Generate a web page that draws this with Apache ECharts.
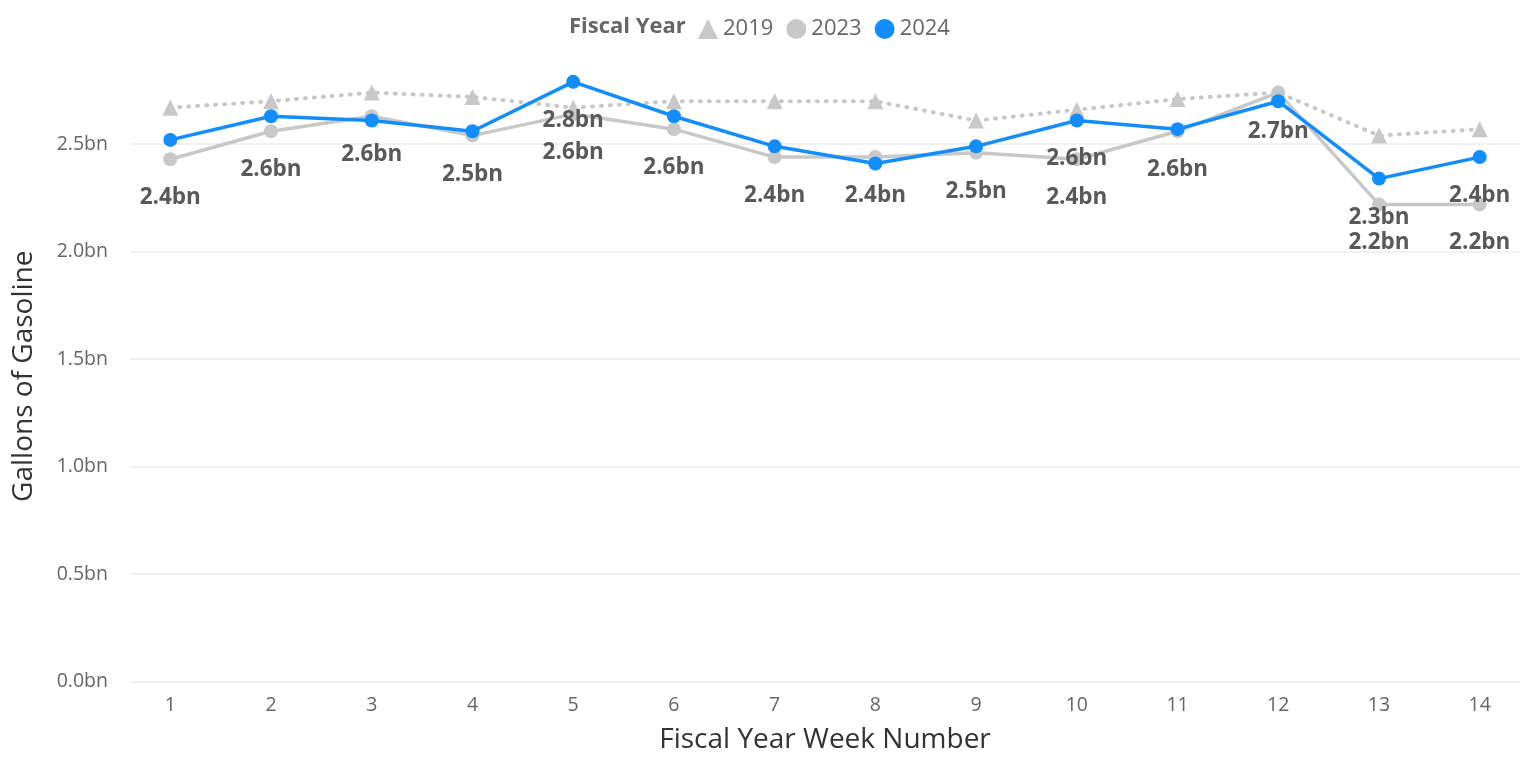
<!DOCTYPE html>
<html>
<head>
<meta charset="utf-8">
<script src="https://cdn.jsdelivr.net/npm/echarts@6/dist/echarts.min.js"></script>
<style>
  html, body { margin: 0; padding: 0; background: #fff; }
  #chart { width: 1527px; height: 761px; }
</style>
</head>
<body>
<div id="chart"></div>
<script>
// fiscal week numbers
var weeks = [1, 2, 3, 4, 5, 6, 7, 8, 9, 10, 11, 12, 13, 14];
// gallons of gasoline, billions
var fy2019 = [2.67, 2.70, 2.74, 2.72, 2.67, 2.70, 2.70, 2.70, 2.61, 2.66, 2.71, 2.74, 2.54, 2.57];
var fy2023 = [2.43, 2.56, 2.63, 2.54, 2.64, 2.57, 2.44, 2.44, 2.46, 2.43, 2.56, 2.74, 2.22, 2.22];
var fy2024 = [2.52, 2.63, 2.61, 2.56, 2.79, 2.63, 2.49, 2.41, 2.49, 2.61, 2.57, 2.70, 2.34, 2.44];
var yTicks = [0, 0.5, 1, 1.5, 2, 2.5];

var font = "'Open Sans', 'Noto Sans', sans-serif";

function pairs(arr) {
  var res = [];
  for (var i = 0; i < weeks.length; i++) res.push([weeks[i], arr[i]]);
  return res;
}

var dataLabel = {
  show: true,
  position: "bottom",
  distance: 20,
  color: "#595959",
  fontSize: 22.5,
  fontWeight: "bold",
  fontFamily: font,
  formatter: function (p) {
    return p.value[1].toFixed(1) + "bn";
  }
};

var chart = echarts.init(document.getElementById("chart"));
var option = {
  animation: false,
  backgroundColor: "#fff",
  title: {
    text: "Fiscal Year",
    left: 564,
    top: 11,
    textStyle: { color: "#666", fontSize: 22, fontWeight: "bold", fontFamily: font }
  },
  legend: {
    left: 693,
    top: 13,
    itemWidth: 20,
    itemHeight: 20,
    itemGap: 13,
    textStyle: { color: "#666", fontSize: 22, fontFamily: font },
    data: [
      { name: "2019", icon: "triangle" },
      { name: "2023", icon: "circle" },
      { name: "2024", icon: "circle" }
    ]
  },
  grid: { left: 130, right: 7, top: 36.7, bottom: 79.3 },
  xAxis: {
    type: "value",
    min: 0.6,
    max: 14.4,
    name: "Fiscal Year Week Number",
    nameLocation: "middle",
    nameGap: 44,
    nameTextStyle: { color: "#333", fontSize: 28, fontFamily: font },
    axisLine: { show: false },
    axisTick: { show: false },
    splitLine: { show: false },
    axisLabel: {
      customValues: weeks,
      color: "#666",
      fontSize: 19.5,
      fontFamily: font,
      margin: 14
    }
  },
  yAxis: {
    type: "value",
    min: 0,
    max: 3,
    interval: 0.5,
    name: "Gallons of Gasoline",
    nameLocation: "middle",
    nameGap: 92,
    nameTextStyle: { color: "#333", fontSize: 28, fontFamily: font, padding: [0, 34, 0, 0] },
    axisLine: { show: false },
    axisTick: { show: false },
    axisLabel: {
      color: "#666",
      fontSize: 19.5,
      fontFamily: font,
      margin: 22,
      showMaxLabel: false,
      formatter: function (v) {
        return yTicks.indexOf(v) >= 0 ? v.toFixed(1) + "bn" : "";
      }
    },
    splitLine: { showMaxLine: false, lineStyle: { color: "#ececec", width: 1.5 } }
  },
  labelLayout: { hideOverlap: true },
  series: [
    {
      name: "2019",
      type: "line",
      data: pairs(fy2019),
      symbol: "triangle",
      symbolSize: 16,
      itemStyle: { color: "#c8c8c8" },
      lineStyle: { color: "#c8c8c8", width: 4, type: [1, 8], cap: "round" },
      z: 2
    },
    {
      name: "2023",
      type: "line",
      data: pairs(fy2023),
      symbol: "circle",
      symbolSize: 14,
      itemStyle: { color: "#c8c8c8" },
      lineStyle: { color: "#c8c8c8", width: 3.5 },
      label: dataLabel,
      z: 3
    },
    {
      name: "2024",
      type: "line",
      data: pairs(fy2024),
      symbol: "circle",
      symbolSize: 14,
      itemStyle: { color: "#118dff" },
      lineStyle: { color: "#118dff", width: 3.5 },
      label: dataLabel,
      z: 4
    }
  ]
};
chart.setOption(option);
window.addEventListener("resize", function () { chart.resize(); });
</script>
</body>
</html>
